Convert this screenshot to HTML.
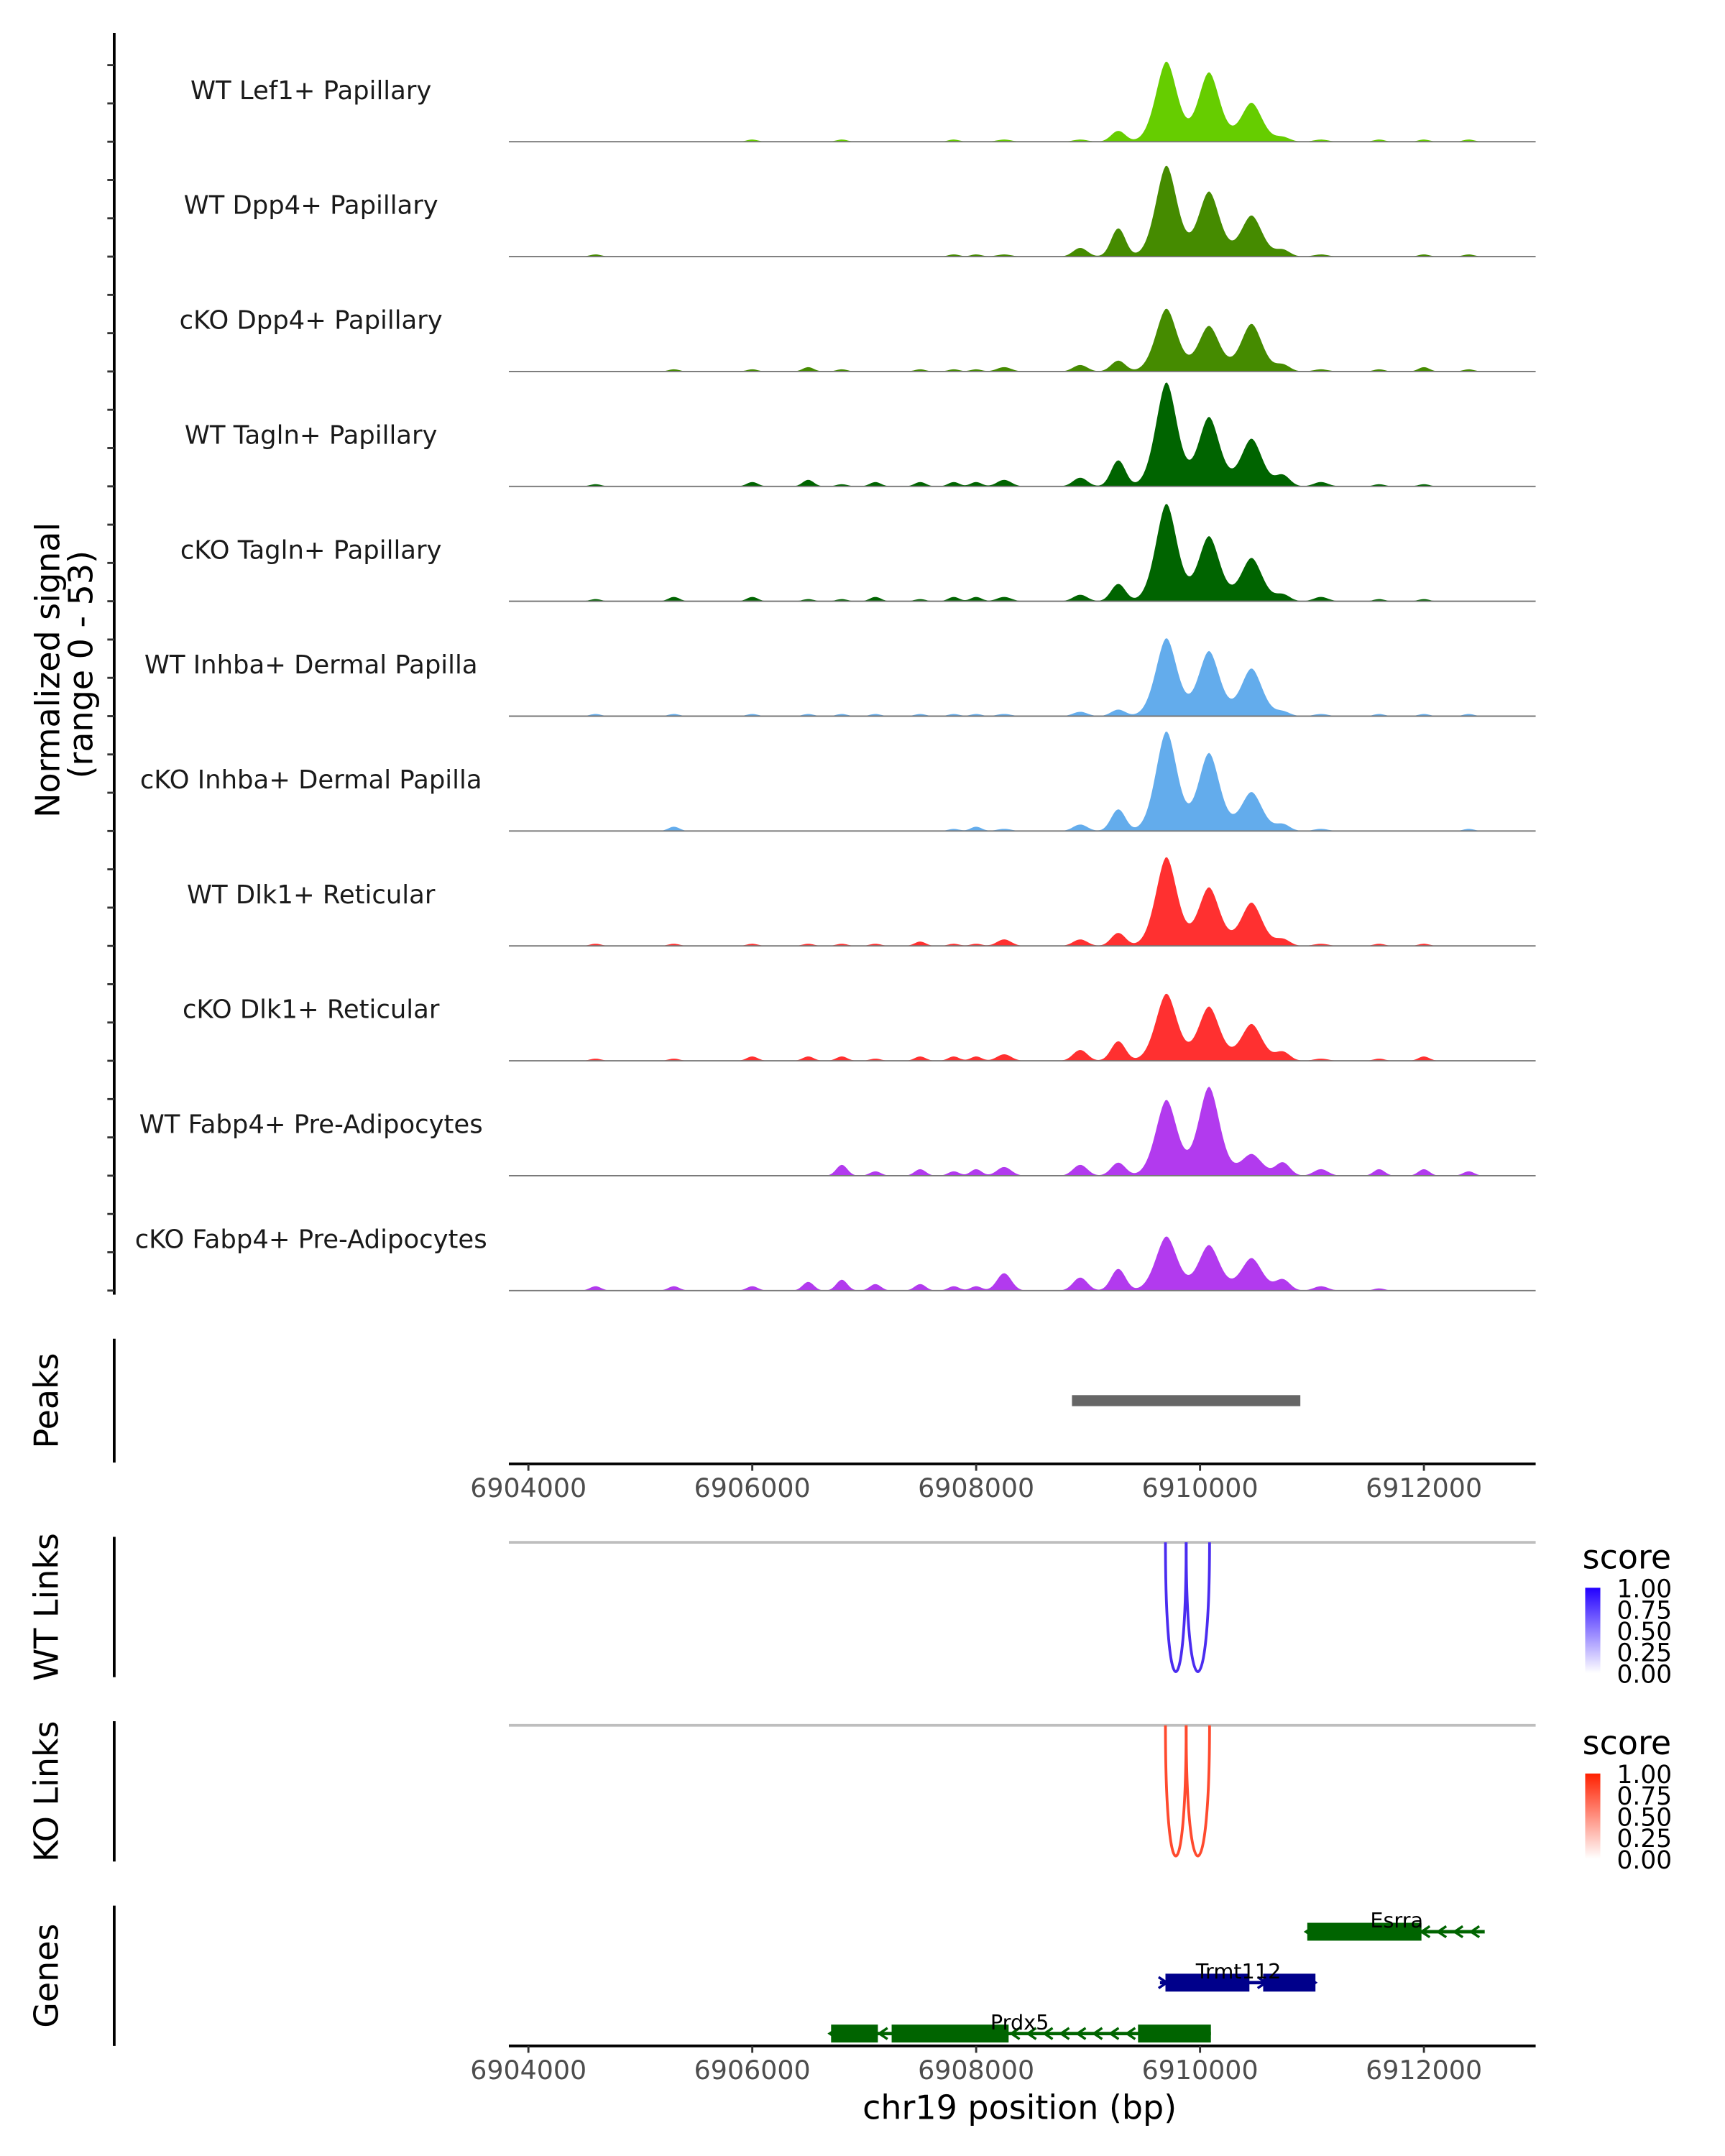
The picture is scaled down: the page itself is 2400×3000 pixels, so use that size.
<!DOCTYPE html>
<html><head><meta charset="utf-8"><style>
html,body{margin:0;padding:0;background:#fff;}
svg{display:block;font-family:"DejaVu Sans","Liberation Sans",sans-serif;}
</style></head><body>
<svg id="chart" width="2400" height="3000" viewBox="0 0 1253.6 1567" xmlns="http://www.w3.org/2000/svg">
<g id="root"></g>
</svg>
<script>
// ---- data ----
const trackNames = ["WT Lef1+ Papillary","WT Dpp4+ Papillary","cKO Dpp4+ Papillary","WT Tagln+ Papillary","cKO Tagln+ Papillary","WT Inhba+ Dermal Papilla","cKO Inhba+ Dermal Papilla","WT Dlk1+ Reticular","cKO Dlk1+ Reticular","WT Fabp4+ Pre-Adipocytes","cKO Fabp4+ Pre-Adipocytes"];
const trackColors = ["#66CD00","#458B00","#458B00","#006400","#006400","#63ACEC","#63ACEC","#FF3030","#FF3030","#B23AEE","#B23AEE"];
const mainPeakPos = [6909700, 6910080, 6910460];
const mainPeakHeights = [
 [37,32,18],[42,30,19],[29,21,22],[48,32,22],[45,30,20],[36,30,22],[46,36,18],[41,27,20],[31,25,17],[35,41,10],[25,21,15]
];
const sidePeakPos = [6909270, 6908930, 6908250, 6910740, 6911080];
const sidePeakHeights = [
 [5,1,1,2,1],[13,4,1,3,1],[5,3,2,3,1],[12,4,3,5,2],[8,3,2,3,2],[3,2,1,2,1],[10,3,1,3,1],[6,3,3,3,1],[9,5,3,4,1],[6,5,4,6,3],[10,6,8,5,2]
];
const noisePos = [6904600,6905300,6906000,6906500,6906800,6907100,6907500,6907800,6908000,6911600,6912000,6912400];
const noiseHeights = [
 [0,0,1,0,1,0,0,1,0,1,1,1],[1,0,0,0,0,0,0,1,1,0,1,1],[0,1,1,2,1,0,1,1,1,1,2,1],[1,0,2,3,1,2,2,2,2,1,1,0],[1,2,2,1,1,2,1,2,2,1,1,0],
 [1,1,1,1,1,1,1,1,1,1,1,1],[0,2,0,0,0,0,0,1,2,0,0,1],[1,1,1,1,1,1,2,1,1,1,1,0],[1,1,2,2,2,1,2,2,2,1,2,0],[0,0,0,0,5,2,3,2,3,3,3,2],[2,2,2,4,5,3,3,2,2,1,0,0]
];
const peakStart=[6908856], peakEnd=[6910896];
const xTicks=[6904000,6906000,6908000,6910000,6912000];
const wtLinkStart=[6909691,6909876], wtLinkEnd=[6909876,6910085], wtLinkScore=[0.85,0.85];
const koLinkStart=[6909691,6909876], koLinkEnd=[6909876,6910085], koLinkScore=[0.85,0.85];
const geneNames=["Esrra","Trmt112","Prdx5"];
const geneStart=[6910958,6909642,6906704];
const geneEnd=[6912543,6911031,6910097];
const geneStrand=[-1,1,-1];
const geneColor=["#006400","#00008B","#006400"];
const exonStart=[[6910958],[6909691,6910564],[6906704,6907245,6909446]];
const exonEnd=[[6911978],[6910441,6911031],[6907122,6908290,6910097]];
const legendTicks=["1.00","0.75","0.50","0.25","0.00"];

// ---- scales ----
const X0=6904000, PXT0=384, PXPER=0.08135, AXSTART=369.8, AXEND=1116;
const xs=v=>PXT0+(v-X0)*PXPER;
const xinv=p=>X0+(p-PXT0)/PXPER;
const BASE0=103, STEP=83.5, YMAX=53;
const ys=(i,v)=>BASE0+i*STEP - v*(STEP/YMAX);
const NS="http://www.w3.org/2000/svg";
const root=document.getElementById('root');
function mk(tag,attrs,parent){const e=document.createElementNS(NS,tag);for(const k in attrs)e.setAttribute(k,attrs[k]);(parent||root).appendChild(e);return e;}
function txt(s,attrs,parent){const e=mk('text',attrs,parent);e.textContent=s;return e;}

// left axis for tracks
let e=mk('line',{x1:83,y1:24,x2:83,y2:941,stroke:'#000','stroke-width':2});


for(let k=0;k<34;k++){const y=BASE0+10*STEP-k*STEP/3; if(y<30)break;
 e=mk('line',{x1:78,y1:y,x2:83,y2:y,stroke:'#333','stroke-width':1.5});
 
 }
e=txt('Normalized signal',{x:0,y:0,'font-size':24,'text-anchor':'middle',transform:'translate(43,487) rotate(-90)'});


e=txt('(range 0 - 53)',{x:0,y:0,'font-size':24,'text-anchor':'middle',transform:'translate(67,483) rotate(-90)'});



// tracks
const bw=15;
const bStart=xinv(AXSTART), bEnd=6912650;
for(let i=0;i<trackNames.length;i++){
 const g=mk('g',{});
 
 
 let d='M'+xs(bStart)+','+ys(i,0);
 for(let b=bStart;b<=bEnd;b+=bw){
  let v=0;
  for(let p=0;p<3;p++){const dd=Math.abs(b-mainPeakPos[p])/135;v+=mainPeakHeights[i][p]*Math.exp(-Math.pow(dd,1.8));}
  for(let p=0;p<sidePeakPos.length;p++){const dd=(b-sidePeakPos[p])/90;v+=sidePeakHeights[i][p]*Math.exp(-dd*dd);}
  for(let p=0;p<noisePos.length;p++){const dd=(b-noisePos[p])/70;v+=noiseHeights[i][p]*Math.exp(-dd*dd);}
  d+=' L'+xs(b).toFixed(2)+','+ys(i,v).toFixed(2);
 }
 d+=' L'+xs(bEnd)+','+ys(i,0)+'Z';
 let a=mk('path',{d:d,fill:trackColors[i]},g);
 
 
 a=mk('line',{x1:AXSTART,y1:ys(i,0),x2:AXEND,y2:ys(i,0),stroke:'#777','stroke-width':1},g);
 
 
 a=txt(trackNames[i],{x:226,y:ys(i,0)-31,'font-size':18.5,'text-anchor':'middle',fill:'#1a1a1a'},g);
 
 
}

// Peaks panel
e=mk('line',{x1:83,y1:973,x2:83,y2:1063,stroke:'#000','stroke-width':2});


e=txt('Peaks',{x:0,y:0,'font-size':24,'text-anchor':'middle',transform:'translate(42,1018) rotate(-90)'});


for(let k=0;k<peakStart.length;k++){
 e=mk('rect',{x:xs(peakStart[k]),y:1014,width:xs(peakEnd[k])-xs(peakStart[k]),height:8,fill:'#666'});
 
 
}
function xAxis(y,name){
 let l=mk('line',{x1:AXSTART,y1:y,x2:AXEND,y2:y,stroke:'#000','stroke-width':2});
 
 
 for(const t of xTicks){
  let tk=mk('line',{x1:xs(t),y1:y,x2:xs(t),y2:y+5,stroke:'#333','stroke-width':1.5});
  
  
  let tl=txt(String(t),{x:xs(t),y:y+24,'font-size':19,'text-anchor':'middle',fill:'#4d4d4d'});
  
  
 }
}
xAxis(1064,'peaks-x-axis');

// links
function linkPanel(top,axTop,axBot,title,starts,ends,scores,col,grad,legY){
 let l=mk('line',{x1:83,y1:axTop,x2:83,y2:axBot,stroke:'#000','stroke-width':2});
 
 
 l=txt(title,{x:0,y:0,'font-size':24,'text-anchor':'middle',transform:'translate(42,'+((axTop+axBot)/2)+') rotate(-90)'});
 
 
 l=mk('line',{x1:AXSTART,y1:top,x2:AXEND,y2:top,stroke:'#bebebe','stroke-width':2});
 
 
 const yb=axBot-4;
 for(let k=0;k<starts.length;k++){
  const x1=xs(starts[k]),x2=xs(ends[k]);const c=(yb-0.25*top)/0.75;
  let p=mk('path',{d:`M${x1},${top} C${x1},${c} ${x2},${c} ${x2},${top}`,fill:'none',stroke:col,'stroke-width':2});
  
  
 }
 const lg=mk('g',{});
 
 
 const gid='g'+legY;
 const df=mk('defs',{},lg);const lgr=mk('linearGradient',{id:gid,x1:0,y1:1,x2:0,y2:0},df);
 mk('stop',{offset:0,'stop-color':'#fff'},lgr);mk('stop',{offset:1,'stop-color':grad},lgr);
 let t=txt('score',{x:1150,y:legY,'font-size':24},lg);
 
 
 let r=mk('rect',{x:1152,y:legY+14,width:11,height:62,fill:'url(#'+gid+')'},lg);
 
 
 for(let k=0;k<legendTicks.length;k++){
  let tt=txt(legendTicks[k],{x:1175,y:legY+21+k*15.5,'font-size':18},lg);
  
  
 }
}
linkPanel(1121,1117,1219,'WT Links',wtLinkStart,wtLinkEnd,wtLinkScore,'#4A2CF0','#2200ff',1140);
linkPanel(1254,1251,1353,'KO Links',koLinkStart,koLinkEnd,koLinkScore,'#FF4A2E','#ff2000',1275);

// genes
e=mk('line',{x1:83,y1:1385,x2:83,y2:1487,stroke:'#000','stroke-width':2});


e=txt('Genes',{x:0,y:0,'font-size':24,'text-anchor':'middle',transform:'translate(42,1436) rotate(-90)'});


const geneY=[1404,1441,1478];
for(let k=0;k<geneNames.length;k++){
 const g=mk('g',{});
 
 
 const y=geneY[k];
 mk('line',{x1:xs(geneStart[k]),y1:y,x2:xs(geneEnd[k]),y2:y,stroke:geneColor[k],'stroke-width':2.5},g);
 for(let j=0;j<exonStart[k].length;j++){
  mk('rect',{x:xs(exonStart[k][j]),y:y-6.5,width:xs(exonEnd[k][j])-xs(exonStart[k][j]),height:13,fill:geneColor[k]},g);
 }
 const s=geneStrand[k];
 for(let x=xs(geneStart[k])+2;x<=xs(geneEnd[k]);x+=12){
  mk('path',{d:`M${x-3*s},${y-4} L${x+3*s},${y} L${x-3*s},${y+4}`,fill:'none',stroke:geneColor[k],'stroke-width':1.8},g);
 }
 const lx=[1015,900,741][k];
 let t=txt(geneNames[k],{x:lx,y:y-3,'font-size':15,'text-anchor':'middle',fill:'#000'},g);
 
 
}
xAxis(1487,'genes-x-axis');
e=txt('chr19 position (bp)',{x:741,y:1540,'font-size':24,'text-anchor':'middle'});


</script>
</body></html>
